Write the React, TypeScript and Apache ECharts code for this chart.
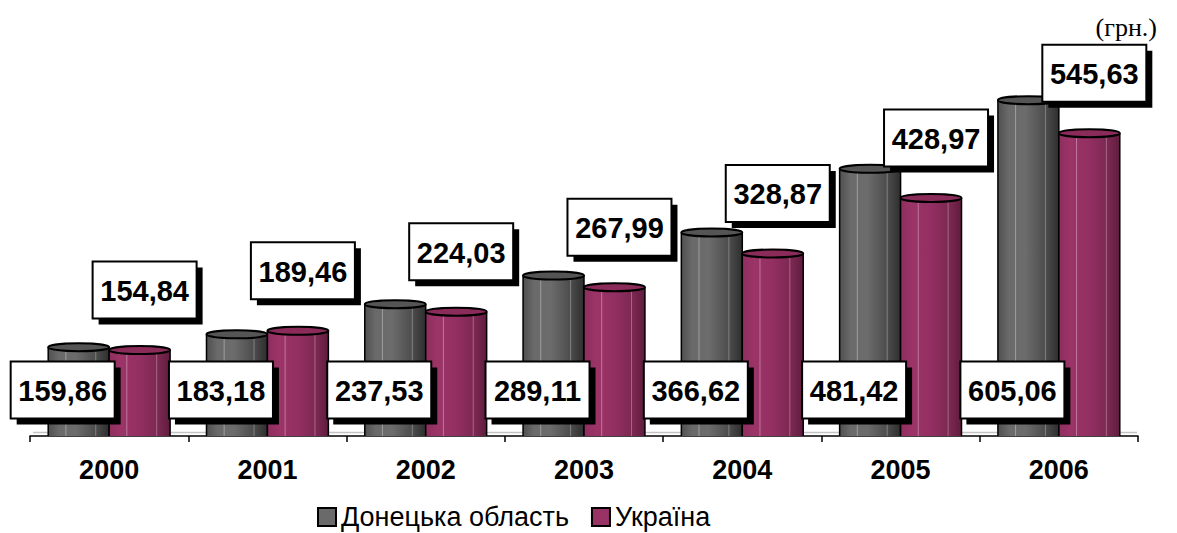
import React, { useEffect, useRef } from "react";
import * as echarts from "echarts";

const categories = ["2000", "2001", "2002", "2003", "2004", "2005", "2006"];
const donetskValues = [159.86, 183.18, 237.53, 289.11, 366.62, 481.42, 605.06];
const ukraineValues = [154.84, 189.46, 224.03, 267.99, 328.87, 428.97, 545.63];
const seriesNames = ["Донецька область", "Україна"];
const unitLabel = "(грн.)";

const SANS = "'Liberation Sans', Arial, sans-serif";

function fmt(v: number) {
  return v.toFixed(2).replace(".", ",");
}

function makeCylinder(side: number, stops: { offset: number; color: string }[], topFill: string) {
  return (params: any, api: any) => {
    const i = api.value(0);
    const v = api.value(1);
    const top = api.coord([i, v]);
    const base = api.coord([i, 0]);
    const band = api.size([1, 0])[0];
    const w = band * 0.385;
    const cx = top[0];
    const x0 = side < 0 ? cx - w : cx;
    const yTop = top[1];
    const yBase = base[1];
    const ry = 4;
    return {
      type: "group",
      children: [
        {
          type: "rect",
          shape: { x: x0, y: yTop, width: w, height: yBase - yTop },
          style: { fill: new echarts.graphic.LinearGradient(0, 0, 1, 0, stops) },
        },
        {
          type: "line",
          shape: { x1: x0 + w * 0.29, y1: yTop + ry, x2: x0 + w * 0.29, y2: yBase },
          style: { stroke: "rgba(255,255,255,0.35)", lineWidth: 1 },
        },
        {
          type: "line",
          shape: { x1: x0 + w * 0.78, y1: yTop + ry, x2: x0 + w * 0.78, y2: yBase },
          style: { stroke: "rgba(255,255,255,0.3)", lineWidth: 1 },
        },
        {
          type: "line",
          shape: { x1: x0, y1: yTop, x2: x0, y2: yBase },
          style: { stroke: "#000", lineWidth: 1.5 },
        },
        {
          type: "line",
          shape: { x1: x0 + w, y1: yTop, x2: x0 + w, y2: yBase },
          style: { stroke: "#000", lineWidth: 1.5 },
        },
        {
          type: "ellipse",
          shape: { cx: x0 + w / 2, cy: yTop, rx: w / 2, ry },
          style: { fill: topFill, stroke: "#000", lineWidth: 2 },
        },
      ],
    };
  };
}

function makeLabel(kind: "bottom" | "top") {
  return (params: any, api: any) => {
    const i = api.value(0);
    const v = api.value(1);
    const top = api.coord([i, v]);
    const base = api.coord([i, 0]);
    const band = api.size([1, 0])[0];
    const w = band * 0.385;
    let cx: number;
    let cy: number;
    if (kind === "bottom") {
      cx = top[0] - w / 2 - 16;
      cy = base[1] - 46;
    } else {
      cx = top[0] + w / 2 + 5;
      cy = top[1] - 60;
    }
    const bw = 104;
    const bh = 57;
    const bx = cx - bw / 2;
    const by = cy - bh / 2;
    return {
      type: "group",
      children: [
        { type: "rect", shape: { x: bx + 6, y: by + 6, width: bw, height: bh }, style: { fill: "#000" } },
        {
          type: "rect",
          shape: { x: bx, y: by, width: bw, height: bh },
          style: { fill: "#fff", stroke: "#000", lineWidth: 2 },
        },
        {
          type: "text",
          x: cx,
          y: cy + 1,
          style: {
            text: fmt(v),
            fontSize: 29,
            fontWeight: "bold",
            fontFamily: SANS,
            fill: "#000",
            align: "center",
            verticalAlign: "middle",
          },
        },
      ],
    };
  };
}

export default function App() {
  const ref = useRef<HTMLDivElement>(null);
  useEffect(() => {
    if (!ref.current) return;
    const chart = echarts.init(ref.current, undefined, { renderer: "svg" });
    const dData = donetskValues.map((v, i) => [i, v]);
    const uData = ukraineValues.map((v, i) => [i, v]);
    chart.setOption({
      animation: false,
      backgroundColor: "#fff",
      grid: { left: 30, right: 39, top: 47.5, bottom: 97, containLabel: false },
      legend: {
        data: seriesNames,
        left: 312,
        top: 498,
        itemWidth: 18,
        itemHeight: 18,
        itemGap: 22,
        icon: "rect",
        textStyle: { fontSize: 27, lineHeight: 28, fontFamily: SANS, color: "#000" },
      },
      xAxis: {
        type: "category",
        data: categories,
        axisLine: { lineStyle: { color: "#000", width: 1.5 } },
        axisTick: { show: true, length: 6, lineStyle: { color: "#000", width: 1.5 } },
        axisLabel: { fontSize: 27, fontWeight: "bold", fontFamily: SANS, color: "#000", margin: 20 },
      },
      yAxis: { type: "value", min: 0, max: 700, show: false, splitLine: { show: false } },
      graphic: [
        {
          type: "line",
          shape: { x1: 33, y1: 432.5, x2: 1137, y2: 432.5 },
          style: { stroke: "#c4c4c4", lineWidth: 1.5 },
          z: 1,
        },
        {
          type: "text",
          right: 20,
          top: 14,
          style: { text: unitLabel, fontSize: 26, fontFamily: "'Liberation Serif', 'Times New Roman', serif", fill: "#000" },
        },
      ],
      series: [
        {
          name: seriesNames[0],
          type: "custom",
          data: dData,
          encode: { x: 0, y: 1 },
          z: 2,
          itemStyle: { color: "#6a6a6a", borderColor: "#000", borderWidth: 1.5 },
          renderItem: makeCylinder(
            -1,
            [
              { offset: 0, color: "#505050" },
              { offset: 0.18, color: "#6a6a6a" },
              { offset: 0.45, color: "#6c6c6c" },
              { offset: 0.8, color: "#4a4a4a" },
              { offset: 1, color: "#2e2e2e" },
            ],
            "#555555"
          ),
        },
        {
          name: seriesNames[1],
          type: "custom",
          data: uData,
          encode: { x: 0, y: 1 },
          z: 2,
          itemStyle: { color: "#993366", borderColor: "#000", borderWidth: 1.5 },
          renderItem: makeCylinder(
            1,
            [
              { offset: 0, color: "#8e2e5e" },
              { offset: 0.2, color: "#9c3468" },
              { offset: 0.5, color: "#932f62" },
              { offset: 0.82, color: "#7a2750" },
              { offset: 1, color: "#5e1c3d" },
            ],
            "#8a2b5a"
          ),
        },
        {
          name: "labels-d",
          type: "custom",
          data: dData,
          encode: { x: 0, y: 1 },
          z: 5,
          renderItem: makeLabel("bottom"),
        },
        {
          name: "labels-u",
          type: "custom",
          data: uData,
          encode: { x: 0, y: 1 },
          z: 5,
          renderItem: makeLabel("top"),
        },
      ],
    });
    return () => chart.dispose();
  }, []);
  return (
    <div
      ref={ref}
      style={{ position: "fixed", left: 0, top: 0, width: 1177, height: 533, background: "#fff" }}
    />
  );
}
